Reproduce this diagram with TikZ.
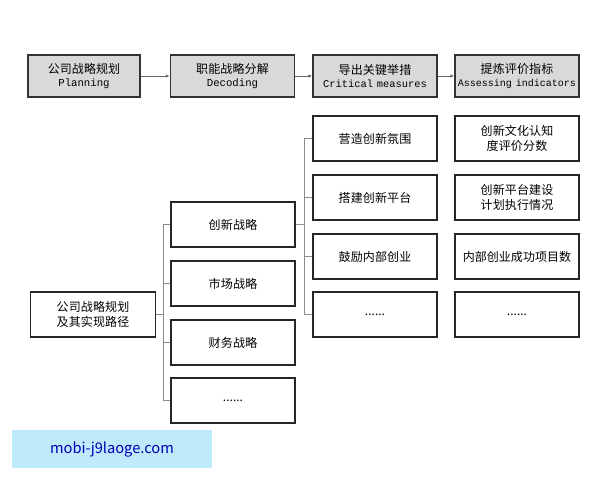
\documentclass[tikz,border=0pt]{standalone}
\usepackage{fontspec}
\setmainfont{Noto Sans CJK SC}
\newfontfamily\engf{Liberation Mono}
\XeTeXlinebreaklocale "zh"
\XeTeXlinebreakskip = 0pt plus 0.1pt
\usetikzlibrary{arrows.meta}
\begin{document}
\begin{tikzpicture}[x=0.75pt,y=-0.75pt,
  hbox/.style={draw=black!80,line width=1pt,fill=black!15,minimum width=93pt,text width=91pt,minimum height=31.5pt,align=center,font=\fontsize{9}{10}\selectfont,inner sep=1pt},
  bx/.style={draw=black!85,line width=1pt,fill=white,minimum width=93pt,minimum height=33.75pt,align=center,font=\fontsize{9}{11}\selectfont,text width=90.5pt,inner xsep=1pt},
  con/.style={draw=black!45,line width=0.6pt},
  arr/.style={draw=black!60,line width=0.6pt,-{Latex[length=3pt,width=2.5pt]}}]
\useasboundingbox (0,0) rectangle (600,480);
\node[hbox,minimum width=84pt,text width=80pt] (h1) at (84,76) {公司战略规划\\{\engf\fontsize{8}{9}\selectfont Planning}};
\node[hbox] (h2) at (232.5,76) {职能战略分解\\{\engf\fontsize{8}{9}\selectfont Decoding}};
\node[hbox] (h3) at (375,76) {导出关键举措\\{\engf\fontsize{7.8}{9}\selectfont Critical measures}};
\node[hbox] (h4) at (517,76) {提炼评价指标\\{\engf\fontsize{7.5}{9}\selectfont Assessing indicators}};
\draw[arr] (h1) -- (h2);
\draw[arr] (h2) -- (h3);
\draw[arr] (h3) -- (h4);
\node[bx,minimum width=94pt] (root) at (93,314.5) {公司战略规划及其实现路径};
\node[bx] (s1) at (233,224.5) {创新战略};
\node[bx] (s2) at (233,283.5) {市场战略};
\node[bx] (s3) at (233,342.5) {财务战略};
\node[bx] (s4) at (233,400.5) {......};
\node[bx] (m1) at (375,138.5) {营造创新氛围};
\node[bx] (m2) at (375,197.5) {搭建创新平台};
\node[bx] (m3) at (375,256.5) {鼓励内部创业};
\node[bx] (m4) at (375,314.5) {......};
\node[bx] (i1) at (517,138.5) {创新文化认知度评价分数};
\node[bx] (i2) at (517,197.5) {创新平台建设计划执行情况};
\node[bx] (i3) at (517,256.5) {内部创业成功项目数};
\node[bx] (i4) at (517,314.5) {......};
\coordinate (b1) at (163,0);
\coordinate (b2) at (304,0);
\draw[con] (root.east) -- (b1 |- root.east);
\draw[con] (b1 |- s1.west) -- (b1 |- s4.west);
\foreach \n in {s1,s2,s3,s4} \draw[con] (b1 |- \n.west) -- (\n.west);
\draw[con] (s1.east) -- (b2 |- s1.east);
\draw[con] (b2 |- m1.west) -- (b2 |- m4.west);
\foreach \n in {m1,m2,m3,m4} \draw[con] (b2 |- \n.west) -- (\n.west);
\node[fill=cyan!25,minimum width=150pt,minimum height=28.5pt,text=blue!70!black,font=\fontsize{11}{12}\selectfont] (wm) at (112,449) {mobi-j9laoge.com};
\end{tikzpicture}
\end{document}
